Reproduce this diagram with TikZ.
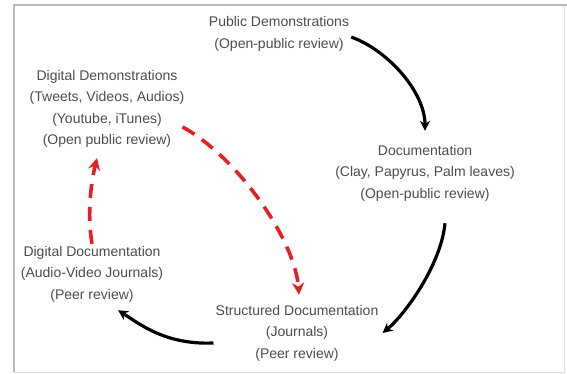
\documentclass[tikz,border=0pt]{standalone}
\usepackage{fontspec}
\setmainfont{Liberation Sans}
\usepackage{xcolor}
\usepackage{tikz}
\usetikzlibrary{arrows.meta}
\definecolor{cycred}{RGB}{228,32,36}
\tikzset{
    every node/.style={font=\fontsize{14}{21.5}\selectfont, text=black!70, align=center, inner sep=2pt},
    blackflow/.style={line width=3.2pt, black, -{Stealth[length=10pt,width=10pt]}},
    redflow/.style={line width=3.6pt, cycred, dash pattern=on 14pt off 9pt, -{Stealth[length=12pt,width=12pt]}}
}

\begin{document}
\begin{tikzpicture}[x=1pt,y=-1pt]
                \useasboundingbox (0,0) rectangle (567,374);
                % Draw frame
                \draw[gray!25, line width=1pt] (564,5) -- (564,372) -- (14,372);
                \draw[gray!55, line width=1.6pt] (14,372) -- (14,5) -- (567,5);

                % Draw stages
                \node (pub) at (279,34) {Public Demonstrations\\(Open-public review)};
                \node (doc) at (425,173) {Documentation\\(Clay, Papyrus, Palm leaves)\\(Open-public review)};
                \node (struct) at (297,333) {Structured Documentation\\(Journals)\\(Peer review)};
                \node (digdoc) at (92,274) {Digital Documentation\\(Audio-Video Journals)\\(Peer review)};
                \node (digdem) at (107,109) {Digital Demonstrations\\(Tweets, Videos, Audios)\\(Youtube, iTunes)\\(Open public review)};

                % Draw classic cycle
                \draw[blackflow] ([yshift=-3pt]pub.east) .. controls +(38,14) and +(0,-38) .. ([yshift=12pt]doc.north);
                \draw[blackflow] ([xshift=20pt,yshift=-20pt]doc.south) .. controls +(-4,42) and +(22,-18) .. ([xshift=2pt]struct.east);
                \draw[blackflow] ([yshift=-10pt]struct.west) .. controls +(-48,2) and +(22,14) .. ([xshift=26pt,yshift=-6pt]digdoc.south);

                % Draw digital shortcuts
                \draw[redflow] (digdoc.north) .. controls +(-5,-30) and +(-6,25) .. ([xshift=-10pt,yshift=-8pt]digdem.south);
                \draw[redflow] ([xshift=-4pt,yshift=-18pt]digdem.east) .. controls +(55,30) and +(-4,-55) .. ([xshift=2pt,yshift=8pt]struct.north);
            \end{tikzpicture}
\end{document}
